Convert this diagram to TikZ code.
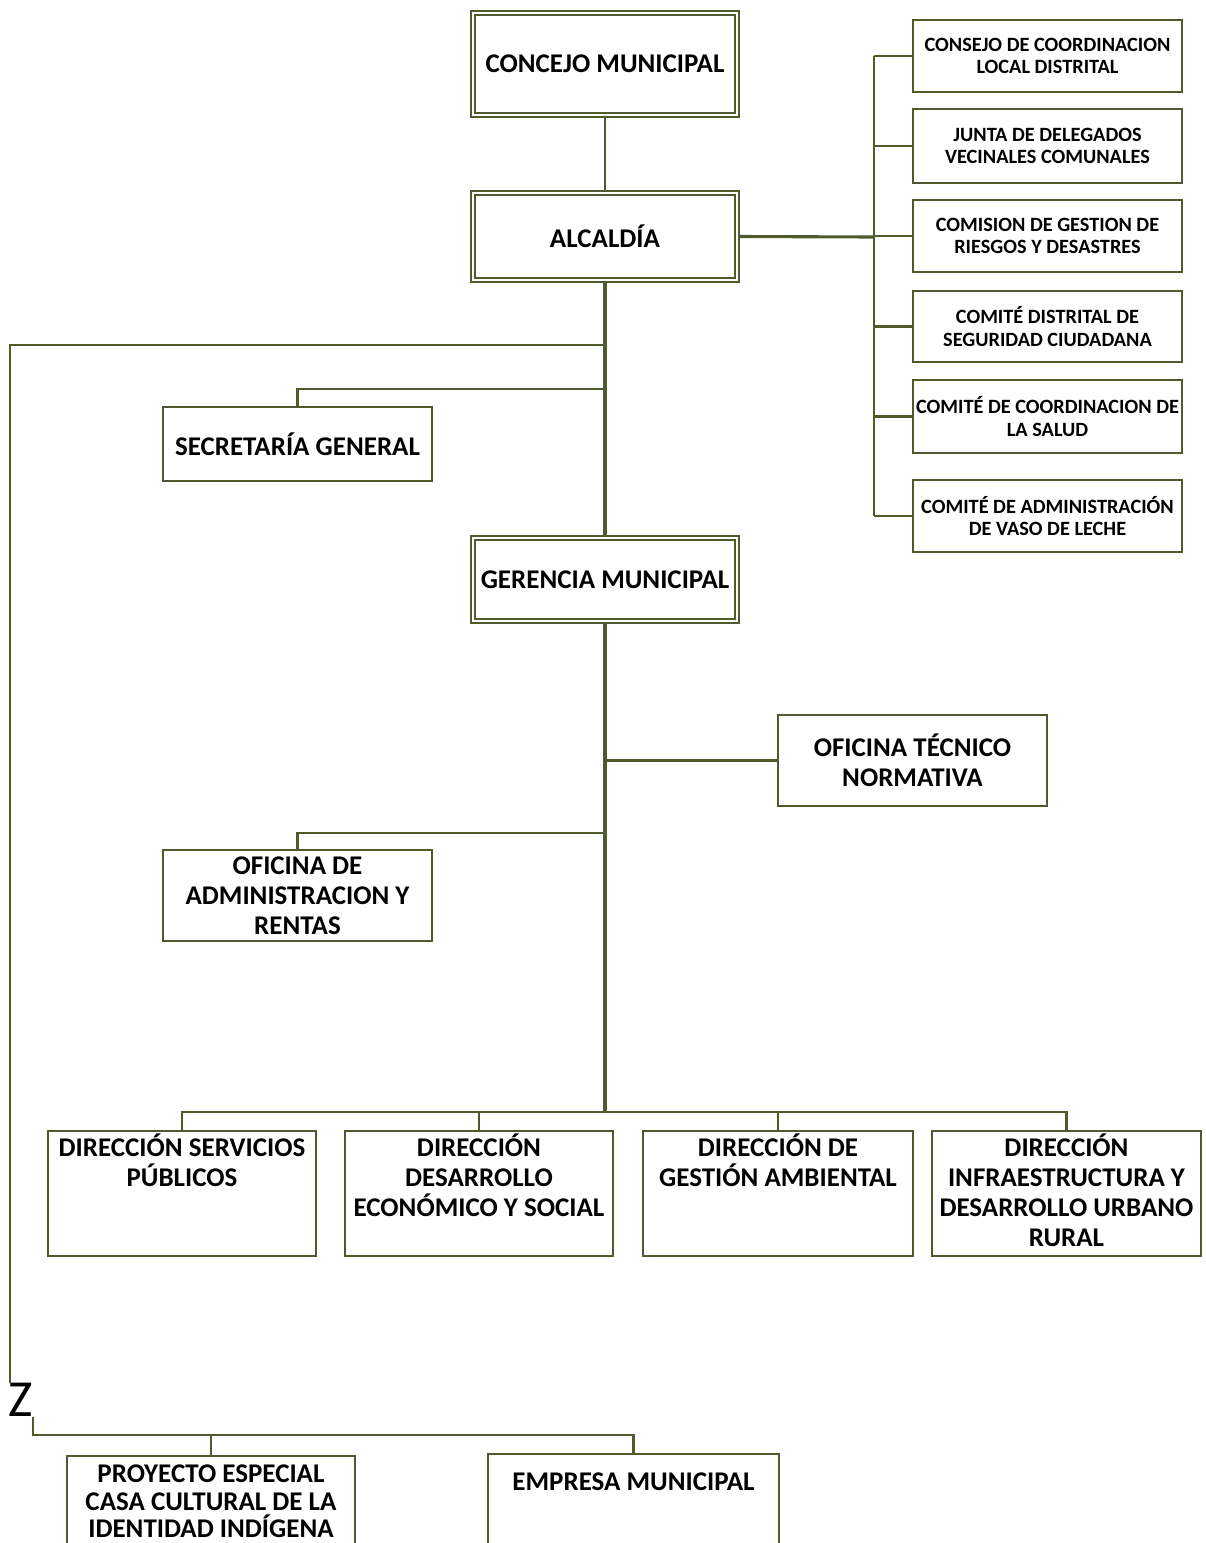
\documentclass[tikz,border=0pt]{standalone}
\usepackage{fontspec}
\setmainfont{Carlito}
\usetikzlibrary{positioning}
\definecolor{olivo}{HTML}{4F5B2C}
\newcommand{\grande}{\fontsize{27}{30}\selectfont\bfseries}
\newcommand{\chico}{\fontsize{20.3}{22.5}\selectfont\bfseries}
\newcommand{\primera}{\rule{0pt}{24pt}}
\tikzset{
linea/.style={draw=olivo, line width=2.1pt},
tronco/.style={draw=olivo, line width=3.1pt},
jefe/.style={rectangle, draw=olivo, line width=1.7pt, double=white, double distance=2.2pt, fill=white, minimum width=264pt, inner sep=0pt, outer sep=2.8pt, font=\grande},
caja/.style={rectangle, draw=olivo, line width=2pt, fill=white, minimum width=269pt, inner sep=0pt, align=center},
comision/.style={caja, minimum height=72pt, font=\chico},
oficina/.style={caja, font=\grande},
direccion/.style={caja, minimum width=268pt, minimum height=125pt},
rotulo/.style={inner sep=0pt, align=center, font=\grande}
}

\begin{document}
\begin{tikzpicture}[x=1pt,y=-1pt]
\useasboundingbox (0,0) rectangle (1206,1543);
\clip (0,0) rectangle (1206,1543);

% cabeza
\node[jefe, minimum height=102pt] (concejo) at (605,64) {CONCEJO MUNICIPAL};
\node[jefe, minimum height=87pt] (alcaldia) at (605,236.5) {ALCALDÍA};
\node[jefe, minimum height=83pt] (gerencia) at (605,579.5) {GERENCIA MUNICIPAL};

% comisiones
\node[comision] (consejo) at (1047.5,56) {CONSEJO DE COORDINACION\\LOCAL DISTRITAL};
\node[comision, minimum height=74pt] (junta) at (1047.5,146) {JUNTA DE DELEGADOS\\VECINALES COMUNALES};
\node[comision] (riesgos) at (1047.5,236) {COMISION DE GESTION DE\\RIESGOS Y DESASTRES};
\node[comision, minimum height=71pt] (seguridad) at (1047.5,326.5) {COMITÉ DISTRITAL DE\\SEGURIDAD CIUDADANA};
\node[comision, minimum height=73pt] (salud) at (1047.5,416.5) {COMITÉ DE COORDINACION DE\\LA SALUD};
\node[comision] (vaso) at (1047.5,516) {COMITÉ DE ADMINISTRACIÓN\\DE VASO DE LECHE};

% oficinas
\node[oficina, minimum height=74pt, line width=1.5pt] (secretaria) at (297.5,444) {SECRETARÍA GENERAL};
\node[oficina, minimum height=91pt] (tecnico) at (912.5,760.5) {OFICINA TÉCNICO\\NORMATIVA};
\node[oficina, minimum height=91pt] (rentas) at (297.5,895.5) {OFICINA DE\\ADMINISTRACION Y\\RENTAS};

% direcciones
\node[direccion] (servicios) at (182,1193.5) {};
\node[direccion] (economico) at (479,1193.5) {};
\node[direccion, minimum width=270pt] (ambiental) at (778,1193.5) {};
\node[direccion, minimum width=269pt] (urbano) at (1066.5,1193.5) {};
\node[rotulo, below=2.5pt of servicios.north] (servicios-t) {\primera DIRECCIÓN SERVICIOS\\PÚBLICOS};
\node[rotulo, below=2.5pt of economico.north] (economico-t) {\primera DIRECCIÓN\\DESARROLLO\\ECONÓMICO Y SOCIAL};
\node[rotulo, below=2.5pt of ambiental.north] (ambiental-t) {\primera DIRECCIÓN DE\\GESTIÓN AMBIENTAL};
\node[rotulo, below=2.5pt of urbano.north] (urbano-t) {\primera DIRECCIÓN\\INFRAESTRUCTURA Y\\DESARROLLO URBANO\\RURAL};

% proyectos y empresa
\node[caja, minimum width=288pt, minimum height=110pt] (proyecto) at (211,1511) {};
\node[caja, minimum width=291pt, minimum height=110pt] (empresa) at (633.5,1509) {};
\node[rotulo, font=\fontsize{27}{27.5}\selectfont\bfseries, below=3.5pt of proyecto.north] (proyecto-t) {\primera PROYECTO ESPECIAL\\CASA CULTURAL DE LA\\IDENTIDAD INDÍGENA};
\node[rotulo, below=13.5pt of empresa.north] (empresa-t) {\primera EMPRESA MUNICIPAL};

\node[inner sep=0pt, font=\fontsize{52}{52}\selectfont] (corte) at (20.5,1400) {Z};

% uniones
\coordinate (j1) at (605,345);
\coordinate (j2) at (605,389);
\coordinate (j3) at (605,760.5);
\coordinate (j4) at (605,833);
\coordinate (j5) at (605,1112);
\coordinate (esquina) at (10,345);
\coordinate (barra) at (0,1435);
\coordinate (espina) at (874,237);

\draw[linea] (concejo) -- (alcaldia);
\draw[tronco] (alcaldia) -- (gerencia);
\draw[tronco] (gerencia) -- (j5);
\draw[linea] (j1) -- (esquina) -- (esquina |- corte.north);
\draw[linea] (corte.south east) -- (corte.south east |- barra) -| (empresa.north);
\draw[linea] (corte.south east |- barra) -| (proyecto.north);
\draw[linea] (j2) -| (secretaria.north);
\draw[linea] (j3) -- (tecnico.west);
\draw[linea] (j4) -| (rentas.north);
\foreach \d in {servicios,economico,ambiental,urbano}
  \draw[linea] (j5) -| (\d.north);

\draw[tronco] (alcaldia.east) -- (espina);
\draw[linea, line width=2.5pt] (consejo.west -| espina) -- (vaso.west -| espina);
\foreach \c in {consejo,junta,riesgos,seguridad,salud,vaso}
  \draw[linea] (\c.west -| espina) -- (\c.west);
\end{tikzpicture}
\end{document}
